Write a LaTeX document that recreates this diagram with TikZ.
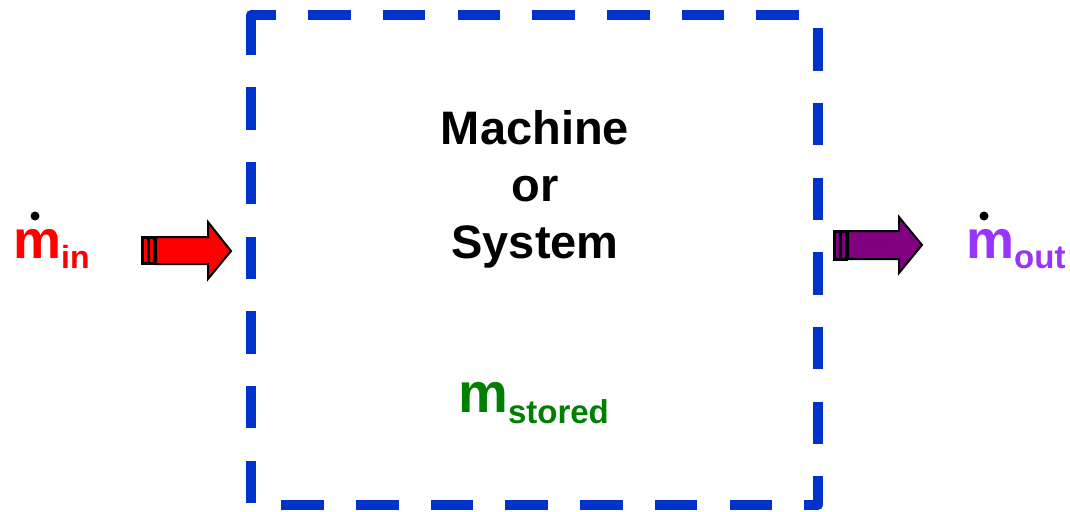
\documentclass[tikz,border=0pt]{standalone}
\usepackage{fontspec}
\setmainfont{Liberation Sans}
\definecolor{boxblue}{RGB}{0,51,204}
\definecolor{inred}{RGB}{255,0,0}
\definecolor{outpurple}{RGB}{153,51,255}
\definecolor{arrowpurple}{RGB}{128,0,128}
\definecolor{storedgreen}{RGB}{0,128,0}
\tikzset{
  sysbox/.style={draw=boxblue,line width=10pt,dash pattern=on 42.5pt off 32.2pt,dash phase=0.5pt,line join=round},
  blockarrow/.style={draw=black,line width=2pt,line join=miter},
  lbl/.style={inner sep=0pt,font=\bfseries}
}
\begin{document}
\begin{tikzpicture}[x=1pt,y=1pt]
\useasboundingbox (0,0) rectangle (1070,-511);
% system boundary
\draw[sysbox] (251,-32) -- (251,-15) -- (818,-15) -- (818,-505) -- (251,-505) -- cycle;
% inflow arrow (red)
\fill[black] (141,-236) rectangle (156,-265);
\fill[inred] (144,-239) rectangle (146.5,-262);
\fill[inred] (149.5,-239) rectangle (153,-262);
\draw[blockarrow,fill=inred] (156,-237) -- (208,-237) -- (208,-222) -- (231,-251) -- (208,-279) -- (208,-264) -- (156,-264) -- cycle;
% outflow arrow (purple)
\fill[black] (833,-230) rectangle (848,-261);
\fill[arrowpurple] (836,-233) rectangle (838.5,-258);
\fill[arrowpurple] (841.5,-233) rectangle (845,-258);
\draw[blockarrow,fill=arrowpurple] (848,-231) -- (899,-231) -- (899,-217) -- (922,-245) -- (899,-273) -- (899,-259) -- (848,-259) -- cycle;
% labels
\node[lbl,font=\bfseries\fontsize{47}{57}\selectfont,align=center] (sys) at (535,-189) {Machine\\or\\System};
\node[lbl,anchor=base west,text=inred] (min) at (13,-258) {\fontsize{54}{54}\selectfont m\raisebox{-0.2em}{\fontsize{32}{32}\selectfont in}};
\fill (35,-216) circle (4.5pt);
\node[lbl,anchor=base west,text=outpurple] (mout) at (966,-258) {\fontsize{54}{54}\selectfont m\raisebox{-0.2em}{\fontsize{33}{33}\selectfont out}};
\fill (984,-216) circle (4.5pt);
\node[lbl,anchor=base west,text=storedgreen] (ms) at (458,-412) {\fontsize{56}{56}\selectfont m\raisebox{-0.2em}{\fontsize{33}{33}\selectfont stored}};
\end{tikzpicture}
\end{document}
